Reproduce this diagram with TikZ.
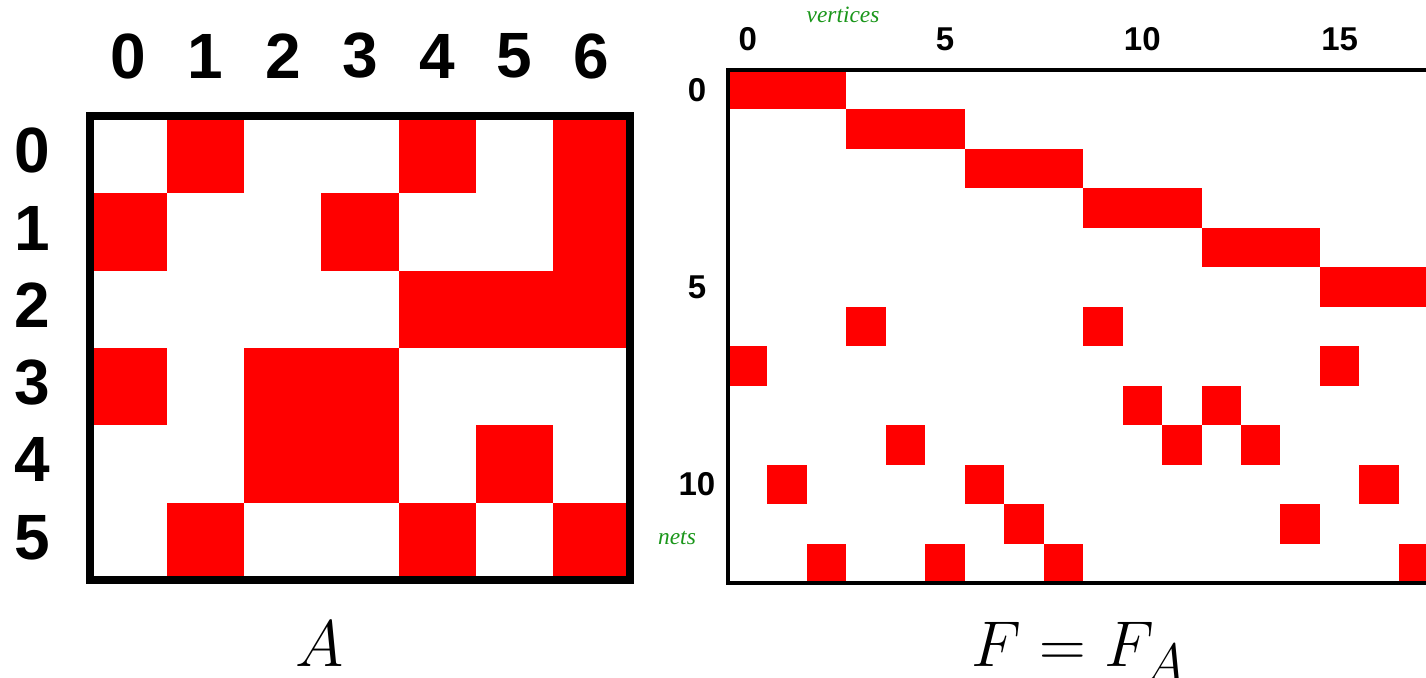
\documentclass[tikz,border=0pt]{standalone}
\usepackage{fontspec}
\usetikzlibrary{positioning}
\newfontfamily\idxfont{Liberation Sans}
\newfontfamily\notefont{Liberation Serif}
\definecolor{MatRed}{HTML}{FF0000}
\definecolor{NoteGreen}{HTML}{1A961A}
\tikzset{
  bigidx/.style={font=\idxfont\bfseries\fontsize{32}{36}\selectfont,inner sep=1pt},
  smallidx/.style={font=\idxfont\bfseries\fontsize{16.5}{18}\selectfont,inner sep=1pt},
  axisnote/.style={font=\notefont\itshape\fontsize{11.7}{13}\selectfont,text=NoteGreen,inner sep=1pt},
  caption/.style={font=\fontsize{24.88}{30}\selectfont,anchor=base,inner sep=0pt}
}

\begin{document}
\begin{tikzpicture}[x=0.5pt,y=-0.5pt]
  \useasboundingbox (0,0) rectangle (1426,678);
  \clip (0,0) rectangle (1426,678);
  \def\aw{77.14}
  \def\ah{77.33}
  \def\fw{39.46}
  % matrix A
  \foreach \r/\c in {0/1,0/4,0/6,1/0,1/3,1/6,2/4,2/5,2/6,3/0,3/2,3/3,4/2,4/3,4/5,5/1,5/4,5/6}
    \fill[MatRed] (90+\c*\aw,116+\r*\ah) rectangle ++(\aw,\ah);
  \draw[line width=4pt] (90,116) rectangle (630,580);
  \foreach \c in {0,...,6}
    \node[bigidx] (acol\c) at (90+\c*\aw+0.5*\aw,56) {\c};
  \foreach \r in {0,...,5}
    \node[bigidx] (arow\r) at (32,116+\r*\ah+0.5*\ah-4) {\r};
  \node[caption] (acap) at (320,667) {\scalebox{1.32}{$A$}};
  % matrix F
  \foreach \r/\c in {0/0,0/1,0/2,1/3,1/4,1/5,2/6,2/7,2/8,3/9,3/10,3/11,4/12,4/13,4/14,5/15,5/16,5/17,
                     6/3,6/9,7/0,7/15,8/10,8/12,9/4,9/11,9/13,10/1,10/6,10/16,11/7,11/14,12/2,12/5,12/8,12/17}
    \fill[MatRed] (728+\c*\fw,70+\r*\fw) rectangle ++(\fw,\fw);
  \draw[line width=2pt] (728,70) rectangle (728+18*\fw,583);
  \foreach \c in {0,5,10,15}
    \node[smallidx] (fcol\c) at (728+\c*\fw+0.5*\fw,39.5) {\c};
  \foreach \r in {0,5,10}
    \node[smallidx] (frow\r) at (697,70+\r*\fw+0.5*\fw) {\r};
  \node[axisnote] (vnote) at (843,15) {vertices};
  \node[axisnote] (nnote) at (677,538) {nets};
  \node[caption] (fcap) at (1079,667) {\scalebox{1.3}{$F = F_A$}};
\end{tikzpicture}
\end{document}
